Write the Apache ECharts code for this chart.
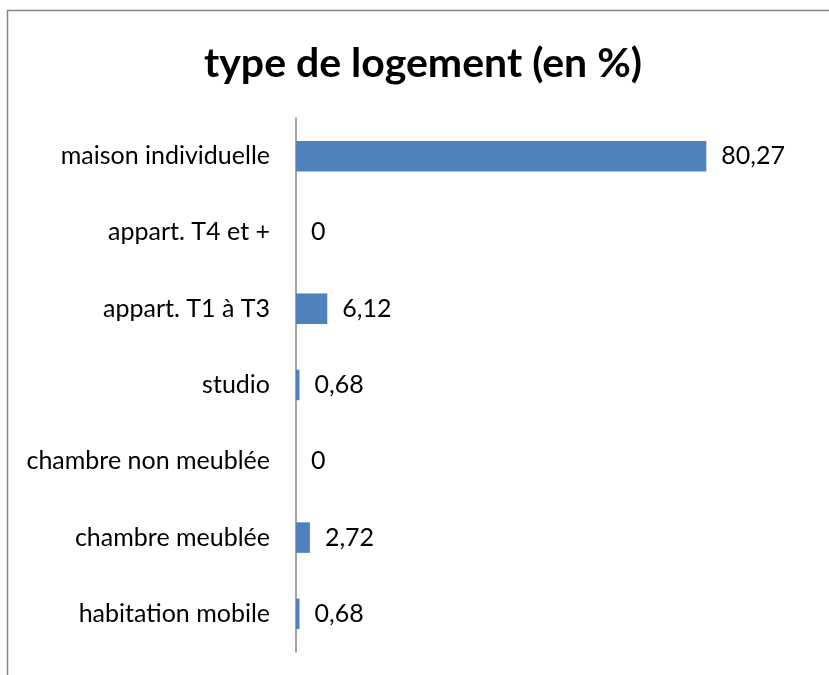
<!DOCTYPE html>
<html>
<head>
<meta charset="utf-8">
<script src="https://cdn.jsdelivr.net/npm/echarts@6/dist/echarts.min.js"></script>
<style>
  html, body { margin: 0; padding: 0; background: #fff; }
  #chart { width: 829px; height: 675px; }
</style>
</head>
<body>
<div id="chart"></div>
<script>
// type de logement, valeurs en %
var categories = ['maison individuelle', 'appart. T4 et +', 'appart. T1 à T3', 'studio',
  'chambre non meublée', 'chambre meublée', 'habitation mobile'];
var values = [80.27, 0, 6.12, 0.68, 0, 2.72, 0.68];

var chart = echarts.init(document.getElementById('chart'));
chart.setOption({
  animation: false,
  textStyle: { fontFamily: 'Lato' },
  title: {
    text: 'type de logement (en %)',
    left: 418,
    top: 38,
    textAlign: 'center',
    textStyle: { fontSize: 41, fontWeight: 'bold', color: '#000', fontFamily: 'Lato' }
  },
  graphic: [{
    type: 'rect',
    shape: { x: 7.5, y: 10.5, width: 900, height: 700 },
    style: { fill: 'none', stroke: '#868686', lineWidth: 1.5 }
  }],
  grid: { left: 296, top: 118, width: 460, height: 534 },
  xAxis: {
    type: 'value',
    min: 0,
    max: 90,
    show: false
  },
  yAxis: {
    type: 'category',
    data: categories,
    inverse: true,
    axisLine: { lineStyle: { color: '#868686', width: 1.5 } },
    axisTick: { show: false },
    axisLabel: { color: '#000', fontSize: 25, margin: 26 }
  },
  series: [{
    type: 'bar',
    data: values,
    barCategoryGap: '60%',
    itemStyle: { color: '#4f81bd' },
    label: {
      show: true,
      position: 'right',
      distance: 15,
      color: '#000',
      fontSize: 25,
      formatter: function (p) { return String(p.value).replace('.', ','); }
    }
  }]
});
</script>
</body>
</html>
